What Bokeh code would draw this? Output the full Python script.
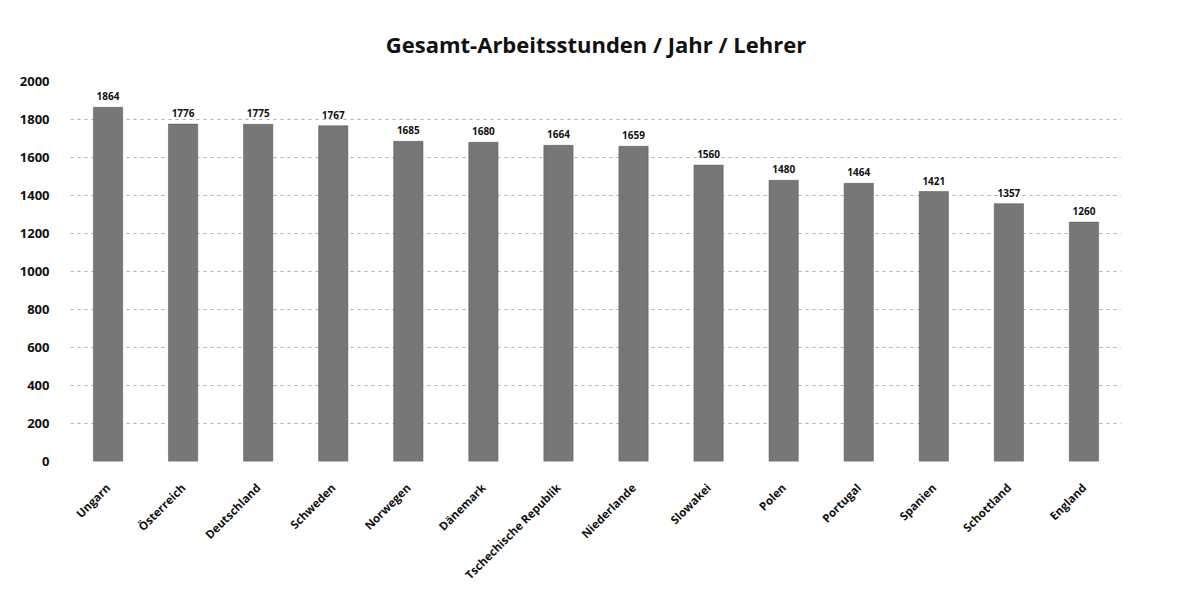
from bokeh.plotting import figure
from bokeh.models import ColumnDataSource, Range1d, LabelSet
from bokeh.core.properties import value
from bokeh.embed import file_html
from bokeh.resources import INLINE
import math

countries = ["Ungarn", "Österreich", "Deutschland", "Schweden", "Norwegen", "Dänemark",
             "Tschechische Republik", "Niederlande", "Slowakei", "Polen", "Portugal",
             "Spanien", "Schottland", "England"]
hours = [1864, 1776, 1775, 1767, 1685, 1680, 1664, 1659, 1560, 1480, 1464, 1421, 1357, 1260]
y_ticks = [0, 200, 400, 600, 800, 1000, 1200, 1400, 1600, 1800, 2000]
title_text = "Gesamt-Arbeitsstunden / Jahr / Lehrer"

src = ColumnDataSource(dict(x=countries, y=hours, lab=[str(v) for v in hours]))

p = figure(x_range=countries, width=1171, height=592, output_backend="svg",
           toolbar_location=None, title=title_text,
           min_border_left=70, min_border_right=50, min_border_top=81, min_border_bottom=131)
p.y_range = Range1d(0, 2000)

p.title.align = "center"
p.title.text_font = "Open Sans"
p.title.text_font_size = "22px"
p.title.text_font_style = "bold"
p.title.text_color = "#111111"
p.title.standoff = 45

p.vbar(x="x", top="y", width=0.39, source=src, fill_color="#777777",
       line_color="#555555", line_width=0.5)

labels = LabelSet(x="x", y="y", text="lab", source=src, text_align="center",
                  text_baseline="bottom", y_offset=7, text_font_size=value("10px"),
                  text_font_style=value("bold"), text_color=value("#111111"),
                  text_font=value("Open Sans"))
p.add_layout(labels)

p.yaxis.ticker = y_ticks
p.xaxis.major_label_orientation = math.pi / 4
for ax in (p.xaxis[0], p.yaxis[0]):
    ax.axis_line_color = None
    ax.major_tick_line_color = None
    ax.minor_tick_line_color = None
    ax.major_label_text_font = "Open Sans"
    ax.major_label_text_font_style = "bold"
    ax.major_label_text_color = "#111111"
p.yaxis.major_label_text_font_size = "13px"
p.xaxis.major_label_text_font_size = "11.5px"
p.yaxis.major_label_standoff = 15
p.xaxis.major_label_standoff = 18

p.xgrid.grid_line_color = None
p.ygrid.grid_line_color = "#9a9a9a"
p.ygrid.grid_line_dash = "3 4"
p.ygrid.grid_line_width = 0.8
p.outline_line_color = None

open("out.html", "w").write(file_html(p, INLINE))
